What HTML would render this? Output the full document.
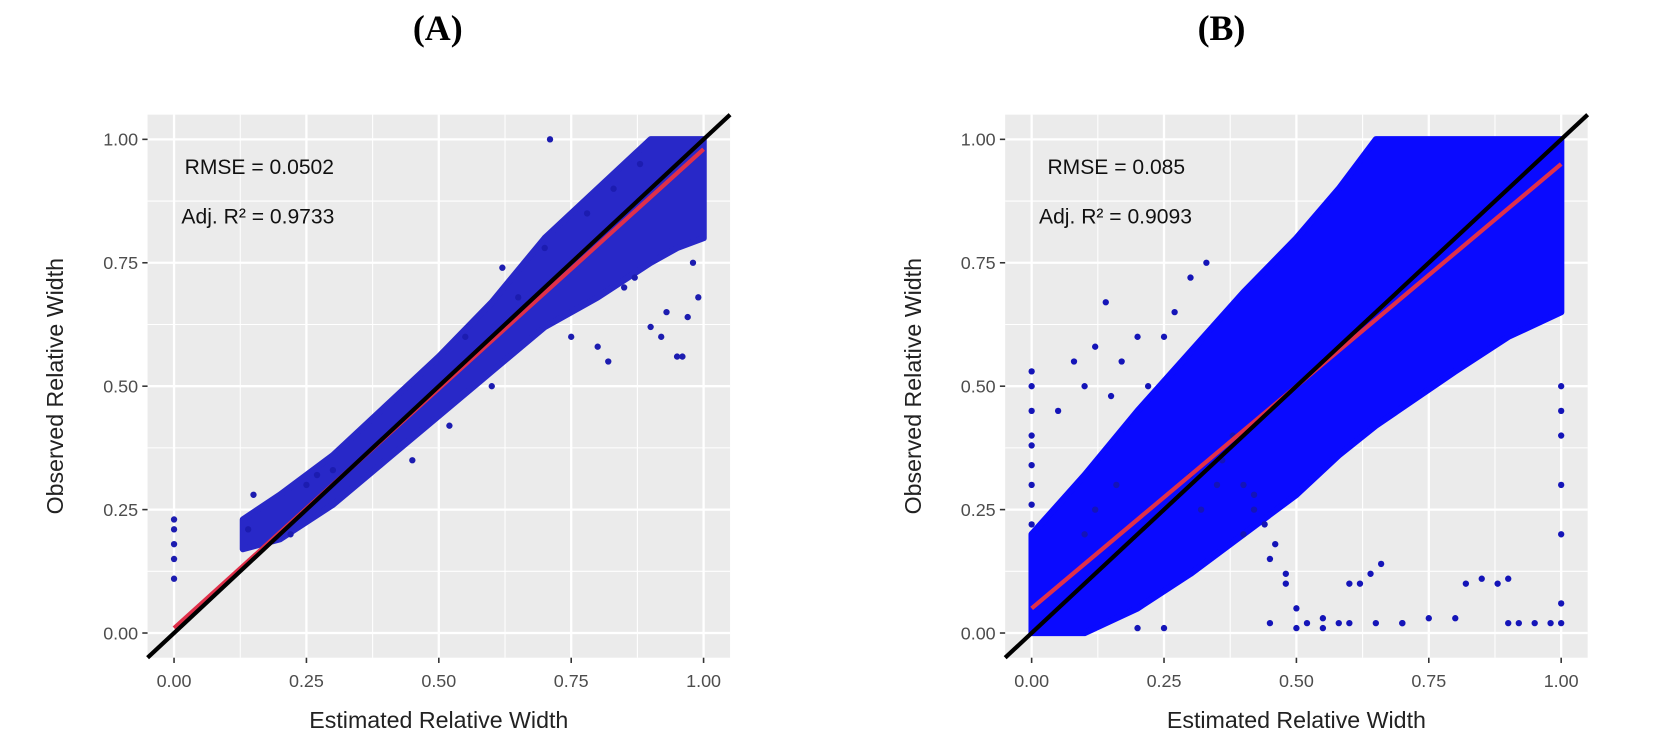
<!DOCTYPE html>
<html><head><meta charset="utf-8"><style>
body{margin:0;background:#fff;width:1654px;height:746px;overflow:hidden}
svg{display:block}
text{font-family:"Liberation Sans",sans-serif}
</style></head><body>
<svg id="chart" width="1654" height="746" viewBox="0 0 1568 707">
<text x="415" y="38" text-anchor="middle" font-weight="bold" font-size="34" style="font-family:'Liberation Serif',serif">(A)</text>
<text x="1158" y="38" text-anchor="middle" font-weight="bold" font-size="34" style="font-family:'Liberation Serif',serif">(B)</text>
</svg>
<script>
const ticks=[0,0.25,0.5,0.75,1];
const tickLabels=["0.00","0.25","0.50","0.75","1.00"];
// Panel A data
const aBandX=[0.13,0.2,0.3,0.4,0.5,0.6,0.7,0.8,0.9,0.95,1.0];
const aBandLo=[0.17,0.19,0.26,0.35,0.44,0.53,0.62,0.68,0.75,0.78,0.80];
const aBandHi=[0.23,0.28,0.36,0.46,0.56,0.67,0.80,0.90,1.0,1.0,1.0];
const aOutX=[0,0,0,0,0,0.14,0.15,0.22,0.25,0.27,0.3,0.45,0.52,0.6,0.65,0.7,0.71,0.75,0.8,0.82,0.85,0.87,0.9,0.92,0.93,0.95,0.96,0.97,0.99,0.98,0.78,0.83,0.88,0.62,0.55];
const aOutY=[0.11,0.15,0.18,0.21,0.23,0.21,0.28,0.2,0.3,0.32,0.33,0.35,0.42,0.5,0.68,0.78,1.0,0.6,0.58,0.55,0.7,0.72,0.62,0.6,0.65,0.56,0.56,0.64,0.68,0.75,0.85,0.9,0.95,0.74,0.6];
const aFit=[0.01,0.98];
// Panel B data
const bBandX=[0,0.1,0.2,0.3,0.4,0.5,0.58,0.65,0.8,0.9,1.0];
const bBandLo=[0.0,0.0,0.05,0.12,0.2,0.28,0.36,0.42,0.53,0.6,0.65];
const bBandHi=[0.2,0.32,0.45,0.57,0.69,0.8,0.9,1.0,1.0,1.0,1.0];
const bOutX=[0,0,0,0,0,0,0,0,0,0.05,0.08,0.1,0.12,0.14,0.15,0.17,0.2,0.22,0.25,0.27,0.1,0.12,0.16,0.3,0.32,0.35,0.4,0.42,0.45,0.48,0.5,0.52,0.55,0.58,0.6,0.65,0.7,0.75,0.8,0.82,0.85,0.9,0.92,0.95,0.98,1.0,1.0,1.0,1.0,1.0,1.0,1.0,0.6,0.62,0.64,0.66,0.7,0.88,0.9,0.2,0.25,0.45,0.5,0.55,0.36,0.38,0.4,0.42,0.44,0.46,0.48,0.3,0.33];
const bOutY=[0.22,0.26,0.3,0.34,0.38,0.4,0.45,0.5,0.53,0.45,0.55,0.5,0.58,0.67,0.48,0.55,0.6,0.5,0.6,0.65,0.2,0.25,0.3,0.32,0.25,0.3,0.2,0.25,0.15,0.1,0.05,0.02,0.03,0.02,0.02,0.02,0.02,0.03,0.03,0.1,0.11,0.02,0.02,0.02,0.02,0.02,0.2,0.3,0.4,0.45,0.5,0.06,0.1,0.1,0.12,0.14,0.02,0.1,0.11,0.01,0.01,0.02,0.01,0.01,0.35,0.4,0.3,0.28,0.22,0.18,0.12,0.72,0.75];
const bFit=[0.05,0.95];

const svg=document.getElementById('chart');
const NS='http://www.w3.org/2000/svg';
function mk(tag,attrs,parent){const e=document.createElementNS(NS,tag);for(const k in attrs)e.setAttribute(k,attrs[k]);(parent||svg).appendChild(e);return e;}

function panel(id,x0,x1,y0,y1,bx,blo,bhi,ox,oy,fit,ptColor,bandColor,l1,l2,l1x,l2x){
  const sx=v=>x0+(x1-x0)*v, sy=v=>y0+(y1-y0)*v;
  const g=mk('g',{});
  
  
  const bg=mk('rect',{x:sx(-0.05),y:sy(1.05),width:sx(1.05)-sx(-0.05),height:sy(-0.05)-sy(1.05),fill:'#ebebeb'},g);
  
  
  for(let i=0;i<ticks.length-1;i++){const m=(ticks[i]+ticks[i+1])/2;
    mk('line',{x1:sx(m),x2:sx(m),y1:sy(-0.05),y2:sy(1.05),stroke:'#fff','stroke-width':1},g);
    mk('line',{x1:sx(-0.05),x2:sx(1.05),y1:sy(m),y2:sy(m),stroke:'#fff','stroke-width':1},g);}
  ticks.forEach((t,i)=>{
    mk('line',{x1:sx(t),x2:sx(t),y1:sy(-0.05),y2:sy(1.05),stroke:'#fff','stroke-width':2.2},g);
    mk('line',{x1:sx(-0.05),x2:sx(1.05),y1:sy(t),y2:sy(t),stroke:'#fff','stroke-width':2.2},g);
    mk('line',{x1:sx(t),x2:sx(t),y1:sy(-0.05),y2:sy(-0.05)+5,stroke:'#333','stroke-width':1.5},g);
    mk('line',{x1:sx(-0.05)-5,x2:sx(-0.05),y1:sy(t),y2:sy(t),stroke:'#333','stroke-width':1.5},g);
    const xt=mk('text',{x:sx(t),y:sy(-0.05)+28,'text-anchor':'middle','font-size':17,fill:'#4d4d4d'},g);xt.textContent=tickLabels[i];
    
    
    const yt=mk('text',{x:sx(-0.05)-9,y:sy(t)+6,'text-anchor':'end','font-size':17,fill:'#4d4d4d'},g);yt.textContent=tickLabels[i];
    
    
  });
  let d='M'+bx.map((v,i)=>sx(v)+','+sy(bhi[i])).join(' L');
  d+=' L'+bx.slice().reverse().map((v,i)=>sx(v)+','+sy(blo[bx.length-1-i])).join(' L')+'Z';
  const band=mk('path',{d:d,fill:bandColor,stroke:bandColor,'stroke-width':6,'stroke-linejoin':'round'},g);
  
  
  ox.forEach((v,i)=>{const c=mk('circle',{cx:sx(v),cy:sy(oy[i]),r:3,fill:ptColor},g);
    
    });
  const fl=mk('line',{x1:sx(0),y1:sy(fit[0]),x2:sx(1),y2:sy(fit[1]),stroke:'#e0304a','stroke-width':4},g);
  
  
  const ref=mk('line',{x1:sx(-0.05),y1:sy(-0.05),x2:sx(1.05),y2:sy(1.05),stroke:'#000','stroke-width':4},g);
  
  
  const t1=mk('text',{x:l1x,y:165,'font-size':20,fill:'#111'},g);t1.textContent=l1;
  
  
  const t2=mk('text',{x:l2x,y:212,'font-size':20,fill:'#111'},g);t2.textContent=l2;
  
  
  const xa=mk('text',{x:(sx(0)+sx(1))/2,y:690,'text-anchor':'middle','font-size':22,fill:'#222'},g);xa.textContent='Estimated Relative Width';
  
  
  const cx=sx(-0.05)-80,cy=(sy(0)+sy(1))/2;
  const ya=mk('text',{x:cx,y:cy,'text-anchor':'middle','font-size':22,fill:'#222',transform:`rotate(-90 ${cx} ${cy})`},g);ya.textContent='Observed Relative Width';
  
  
}
panel('panel-a',165,667,600,132,aBandX,aBandLo,aBandHi,aOutX,aOutY,aFit,'#1c1cb0','#2828c8','RMSE = 0.0502','Adj. R² = 0.9733',175,172);
panel('panel-b',978,1480,600,132,bBandX,bBandLo,bBandHi,bOutX,bOutY,bFit,'#1414b8','#0a0aff','RMSE = 0.085','Adj. R² = 0.9093',993,985);
</script>
</body></html>
